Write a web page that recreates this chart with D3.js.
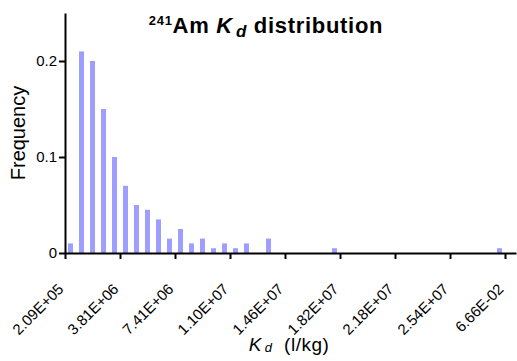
<!DOCTYPE html>
<html>
<head>
<meta charset="utf-8">
<script src="https://d3js.org/d3.v7.min.js"></script>
<style>
  body { margin: 0; background: #fff; }
  svg { font-family: Arial, "Liberation Sans", sans-serif; }
  .axis path, .axis line { stroke: #000; stroke-width: 2px; }
  .axis text { fill: #000; }
</style>
</head>
<body>
<svg id="chart" width="517" height="361"></svg>
<script>
// frequency per Kd bin (40 bins, 5 per labelled tick)
var freq = [0.01, 0.21, 0.20, 0.15, 0.10, 0.07, 0.05, 0.045, 0.035, 0.015,
            0.025, 0.01, 0.015, 0.005, 0.01, 0.005, 0.01, 0, 0.015, 0,
            0, 0, 0, 0, 0.005, 0, 0, 0, 0, 0,
            0, 0, 0, 0, 0, 0, 0, 0, 0, 0.005];
var tickLabels = ["2.09E+05", "3.81E+06", "7.41E+06", "1.10E+07", "1.46E+07",
                  "1.82E+07", "2.18E+07", "2.54E+07", "6.66E-02"];
var yTicks = [0, 0.1, 0.2];

var svg = d3.select("#chart");

var x = d3.scaleLinear().domain([0, 41]).range([65, 516]);
var y = d3.scaleLinear().domain([0, 0.25]).range([253, 13]);

// bars
svg.append("g")
  .selectAll("rect")
  .data(freq)
  .enter()
  .append("rect")
  .attr("x", function (d, i) { return x(i + 0.5) - 2.5; })
  .attr("width", 5)
  .attr("y", function (d) { return y(d); })
  .attr("height", function (d) { return y(0) - y(d); })
  .attr("fill", "#9e9eff");

// x axis
var xAxis = d3.axisBottom(x)
  .tickValues(d3.range(0, 41, 5))
  .tickFormat(function (d) { return tickLabels[d / 5]; })
  .tickSize(6)
  .tickSizeOuter(0);

var gx = svg.append("g")
  .attr("class", "axis")
  .attr("transform", "translate(0," + y(0) + ")")
  .call(xAxis);
gx.selectAll(".tick text")
  .style("font-size", "15px")
  .attr("text-anchor", "end")
  .attr("x", 0)
  .attr("y", 0)
  .attr("dy", 0)
  .attr("transform", "translate(-1,37) rotate(-45)");

// y axis
var yAxis = d3.axisLeft(y)
  .tickValues(yTicks)
  .tickFormat(function (d) { return d === 0 ? "0" : d3.format(".1f")(d); })
  .tickSize(6)
  .tickSizeOuter(0);

svg.append("g")
  .attr("class", "axis")
  .attr("transform", "translate(" + x(0) + ",0)")
  .call(yAxis)
  .selectAll("text")
  .style("font-size", "15px")
  .attr("x", -8);

// title
var title = svg.append("text")
  .attr("x", 266)
  .attr("y", 33)
  .attr("text-anchor", "middle")
  .style("font-size", "22px")
  .style("letter-spacing", "0.7px")
  .style("font-weight", "bold");
title.append("tspan").text("241").style("font-size", "13px").attr("dy", "-8");
title.append("tspan").text("Am ").attr("dy", "8");
title.append("tspan").text("K").style("font-style", "italic");
title.append("tspan").text("d").style("font-style", "italic").style("font-size", "17px").attr("dy", "4").attr("dx", "3");
title.append("tspan").text(" distribution").attr("dy", "-4");

// x axis title
var xt = svg.append("text")
  .attr("x", 289)
  .attr("y", 351)
  .attr("text-anchor", "middle")
  .style("font-size", "19px")
  .style("letter-spacing", "0.5px");
xt.append("tspan").text("K").style("font-style", "italic");
xt.append("tspan").text("d").style("font-style", "italic").style("font-size", "13px").attr("dy", "1").attr("dx", "3");
xt.append("tspan").text("\u00a0\u00a0(l/kg)").attr("dy", "-1");

// y axis title
svg.append("text")
  .attr("transform", "translate(25,133) rotate(-90)")
  .attr("text-anchor", "middle")
  .style("font-size", "20px")
  .text("Frequency");
</script>
</body>
</html>
